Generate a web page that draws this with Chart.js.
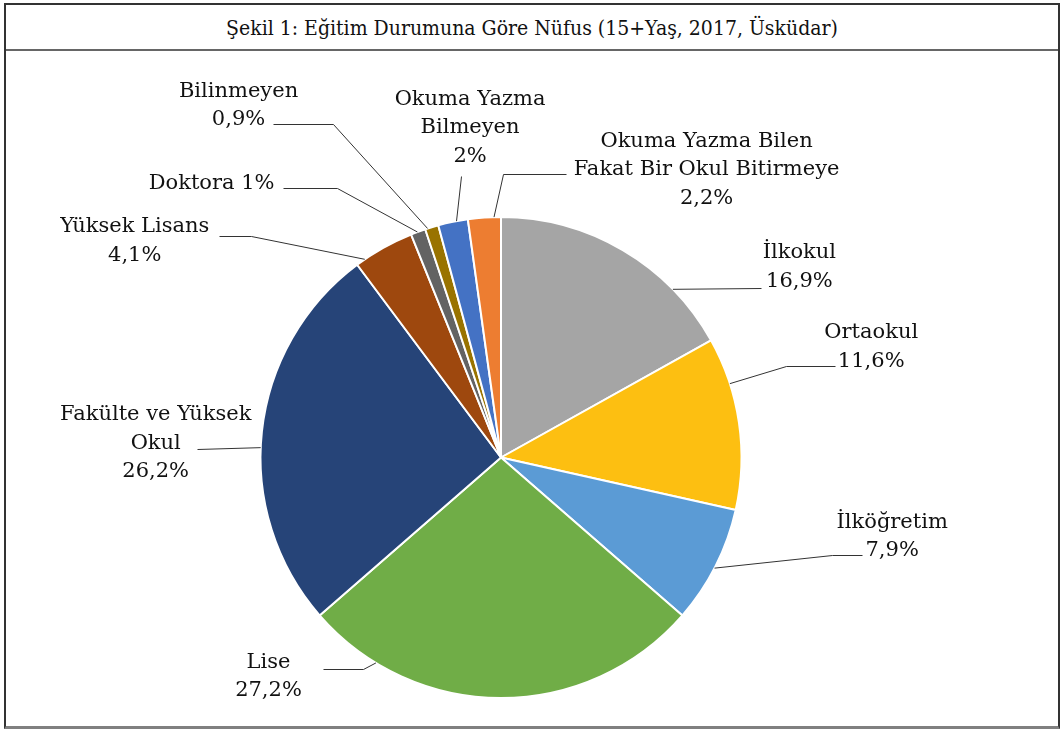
<!DOCTYPE html>
<html lang="tr">
<head>
<meta charset="utf-8">
<script src="https://cdn.jsdelivr.net/npm/chart.js@4/dist/chart.umd.min.js"></script>
<style>
  body { margin: 0; background: #fff; }
  #frame {
    position: absolute; left: 4px; top: 3px; width: 1056px; height: 726px;
    box-sizing: border-box; border: 2px solid #333; border-bottom: 3px solid #808080;
  }
  #title {
    height: 44px; line-height: 46px; text-align: center; border-bottom: 2px solid #666;
    font-family: "DejaVu Serif Condensed", "DejaVu Serif", serif; font-stretch: condensed;
    font-size: 21px; color: #111;
  }
  #box { position: relative; width: 1052px; height: 675px; }
</style>
</head>
<body>
<div id="frame">
  <div id="title">Şekil 1: Eğitim Durumuna Göre Nüfus (15+Yaş, 2017, Üsküdar)</div>
  <div id="box"><canvas id="myChart"></canvas></div>
</div>
<script>
// 12時の位置から時計回り
const categories = [
  ['İlkokul'],
  ['Ortaokul'],
  ['İlköğretim'],
  ['Lise'],
  ['Fakülte ve Yüksek', 'Okul'],
  ['Yüksek Lisans'],
  ['Doktora'],
  ['Bilinmeyen'],
  ['Okuma Yazma', 'Bilmeyen'],
  ['Okuma Yazma Bilen', 'Fakat Bir Okul Bitirmeye']
];
const values = [16.9, 11.6, 7.9, 27.2, 26.2, 4.1, 1, 0.9, 2, 2.2];
const valueLabels = ['16,9%', '11,6%', '7,9%', '27,2%', '26,2%', '4,1%', '1%', '0,9%', '2%', '2,2%'];
const colors = ['#A5A5A5', '#FDBF11', '#5B9BD5', '#70AD47', '#264478',
                '#9E480E', '#636363', '#997300', '#4472C4', '#ED7D31'];

// ラベル配置（中心からの相対位置, 半径241基準）
// t: 扇形の中の引き出し線の位置, path: 折れ点, text: 1行目の中心
const labelLayout = [
  { t: 0.75, path: [[261, -170]], text: [299, -205] },
  { t: 0.27, path: [[286, -92], [335, -92]], text: [371, -125] },
  { t: 0.52, path: [[332, 98], [362, 98]], text: [392, 65] },
  { t: 0.82, path: [[-138, 212], [-178, 212]], text: [-233, 205] },
  { t: 0.46, path: [[-305, -9]], text: [-346, -43] },
  { t: 0.15, path: [[-251, -222], [-283, -222]], text: [-367, -231] },
  { t: 0.45, path: [[-164, -270], [-218, -270]], text: [-290, -275], inline: true },
  { t: 0.18, path: [[-168, -334], [-228, -334]], text: [-263, -367] },
  { t: 0.62, path: [[-40, -282]], text: [-31, -359] },
  { t: 0.79, path: [[2, -284], [65, -284]], text: [206, -317] }
];
const REF_R = 241;

const outsideLabels = {
  id: 'outsideLabels',
  afterDraw(chart) {
    const ctx = chart.ctx;
    const arcs = chart.getDatasetMeta(0).data;
    ctx.save();
    arcs.forEach(function(arc, i) {
      const p = arc.getProps(['x', 'y', 'startAngle', 'endAngle', 'outerRadius'], true);
      const k = p.outerRadius / REF_R;
      const lay = labelLayout[i];
      const a = p.startAngle + lay.t * (p.endAngle - p.startAngle);
      // 引き出し線（水平部分をくっきり描くため0.5ずらす）
      ctx.beginPath();
      ctx.strokeStyle = '#333';
      ctx.lineWidth = 1;
      ctx.moveTo(p.x + Math.cos(a) * p.outerRadius, p.y + Math.sin(a) * p.outerRadius);
      lay.path.forEach(function(pt) {
        ctx.lineTo(Math.round(p.x + pt[0] * k) + 0.5, Math.round(p.y + pt[1] * k) + 0.5);
      });
      ctx.stroke();
      // ラベル
      let lines = categories[i].slice();
      if (lay.inline) {
        lines[lines.length - 1] += ' ' + valueLabels[i];
      } else {
        lines.push(valueLabels[i]);
      }
      ctx.fillStyle = '#111';
      ctx.font = '21px "DejaVu Serif", serif';
      ctx.textAlign = 'center';
      ctx.textBaseline = 'middle';
      lines.forEach(function(line, j) {
        ctx.fillText(line, p.x + lay.text[0] * k, p.y + lay.text[1] * k + j * 28.5);
      });
    });
    ctx.restore();
  }
};

const ctx = document.getElementById('myChart').getContext('2d');
const chart = new Chart(ctx, {
  type: 'pie',
  data: {
    labels: categories.map(function(c) { return c.join(' '); }),
    datasets: [{
      data: values,
      backgroundColor: colors,
      borderColor: '#ffffff',
      borderWidth: 2
    }]
  },
  options: {
    responsive: true,
    maintainAspectRatio: false,
    animation: false,
    layout: { padding: { left: 253, right: 315, top: 165, bottom: 27 } },
    plugins: {
      legend: { display: false },
      tooltip: { enabled: false }
    }
  },
  plugins: [outsideLabels]
});
</script>
</body>
</html>
